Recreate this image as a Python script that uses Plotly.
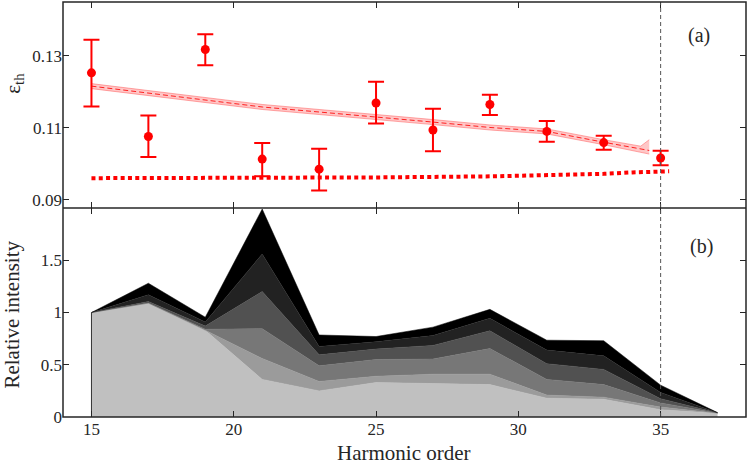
import plotly.graph_objects as go
from plotly.subplots import make_subplots

# ---- panel (a): measured threshold with error bars ----
orders = [15, 17, 19, 21, 23, 25, 27, 29, 31, 33, 35]
eps_meas = [0.1253, 0.1076, 0.1318, 0.1013, 0.0985, 0.1169, 0.1094, 0.1165, 0.1090, 0.1059, 0.1016]
eps_up = [0.0092, 0.0058, 0.0042, 0.0045, 0.0057, 0.0059, 0.0059, 0.0027, 0.0029, 0.0019, 0.0020]
eps_dn = [0.0094, 0.0057, 0.0044, 0.0048, 0.0059, 0.0057, 0.0059, 0.0029, 0.0029, 0.0020, 0.0020]

# model curve (dashed) with its uncertainty band
model_x = [15, 17, 19, 21, 23, 25, 27, 29, 31, 33, 34.3, 34.6]
model_y = [0.1216, 0.1196, 0.1177, 0.1158, 0.1144, 0.1131, 0.1116, 0.1101, 0.1090, 0.1060, 0.1041, 0.1037]
model_hi = [0.1223, 0.1203, 0.1184, 0.1165, 0.1151, 0.1138, 0.1123, 0.1108, 0.1097, 0.1067, 0.1049, 0.1067]
model_lo = [0.1209, 0.1189, 0.1170, 0.1151, 0.1137, 0.1124, 0.1109, 0.1094, 0.1083, 0.1053, 0.1033, 0.1027]

# thick dotted curve
dot_x = [15, 20, 25, 29, 31, 33, 34, 35, 35.3]
dot_y = [0.0960, 0.0960, 0.0962, 0.0965, 0.0968, 0.0972, 0.0976, 0.0980, 0.0979]

# ---- panel (b): stacked relative intensity ----
orders_b = [15, 17, 19, 21, 23, 25, 27, 29, 31, 33, 35, 37]
layer1 = [1.00, 1.09, 0.83, 0.36, 0.25, 0.33, 0.32, 0.31, 0.18, 0.17, 0.07, 0.035]
layer2 = [0.0, 0.0, 0.0, 0.20, 0.09, 0.06, 0.09, 0.10, 0.03, 0.02, 0.025, 0.002]
layer3 = [0.0, 0.0, 0.01, 0.285, 0.15, 0.16, 0.145, 0.245, 0.15, 0.12, 0.04, 0.002]
layer4 = [0.0, 0.015, 0.03, 0.355, 0.105, 0.10, 0.13, 0.17, 0.15, 0.145, 0.04, 0.001]
layer5 = [0.0, 0.065, 0.04, 0.36, 0.08, 0.07, 0.095, 0.12, 0.13, 0.13, 0.06, 0.001]
layer6 = [0.0, 0.11, 0.045, 0.43, 0.11, 0.05, 0.08, 0.085, 0.095, 0.145, 0.07, 0.001]
layer_colors = ["#c0c0c0", "#9b9b9b", "#777777", "#515151", "#222222", "#000000"]

FONT = "Liberation Serif"
AX = "#262626"
SPLIT = 209 / 415  # paper y of the border between the panels

fig = make_subplots(rows=2, cols=1, shared_xaxes=True, vertical_spacing=0,
                    row_heights=[206, 209])

# band
fig.add_trace(go.Scatter(x=model_x, y=model_hi, mode="lines",
                         line=dict(color="rgba(255,80,80,0.6)", width=0.8),
                         showlegend=False), row=1, col=1)
fig.add_trace(go.Scatter(x=model_x, y=model_lo, mode="lines", fill="tonexty",
                         fillcolor="rgba(255,0,0,0.22)",
                         line=dict(color="rgba(255,80,80,0.6)", width=0.8),
                         showlegend=False), row=1, col=1)
fig.add_trace(go.Scatter(x=model_x, y=model_y, mode="lines",
                         line=dict(color="#ff2020", width=1, dash="5px,3px"),
                         showlegend=False), row=1, col=1)
fig.add_trace(go.Scatter(x=dot_x, y=dot_y, mode="lines",
                         line=dict(color="#ff0000", width=4, dash="4px,3.3px"),
                         showlegend=False), row=1, col=1)
fig.add_trace(go.Scatter(x=orders, y=eps_meas, mode="markers",
                         marker=dict(color="#ff0000", size=9),
                         error_y=dict(type="data", symmetric=False, array=eps_up,
                                      arrayminus=eps_dn, color="#ff0000",
                                      thickness=2, width=8),
                         showlegend=False), row=1, col=1)

layers = [layer1, layer2, layer3, layer4, layer5, layer6]
for vals, col in zip(layers, layer_colors):
    fig.add_trace(go.Scatter(x=orders_b, y=vals, mode="lines", stackgroup="one",
                             fillcolor=col, line=dict(color=col, width=0.5),
                             showlegend=False), row=2, col=1)
fig.add_trace(go.Scatter(x=[orders_b[0], orders_b[0]], y=[0, layer1[0]], mode="lines",
                         line=dict(color="#333333", width=1), showlegend=False),
              row=2, col=1)

fig.add_vline(x=35, line=dict(color="#555555", width=1, dash="4px,3px"))

# frame drawn as shapes so the shared middle border is a single line
fig.add_shape(type="rect", xref="paper", yref="paper", x0=0, x1=1, y0=0, y1=1,
              line=dict(color=AX, width=1.5))
fig.add_shape(type="line", xref="paper", yref="paper", x0=0, x1=1, y0=SPLIT, y1=SPLIT,
              line=dict(color=AX, width=1.5))

axis_common = dict(showline=False, mirror="ticks", automargin=False,
                   ticks="inside", ticklen=6, tickcolor=AX, tickwidth=1.2,
                   showgrid=False, zeroline=False,
                   tickfont=dict(family=FONT, size=17, color=AX))
fig.update_xaxes(range=[14, 38], tickvals=[15, 20, 25, 30, 35], **axis_common)
fig.update_xaxes(showticklabels=False, row=1, col=1)
fig.update_yaxes(**axis_common)
fig.update_yaxes(range=[0.0877, 0.145], tickvals=[0.09, 0.11, 0.13],
                 ticktext=["0.09", "0.11", "0.13"], row=1, col=1)
fig.update_yaxes(range=[0, 2.0], tickvals=[0, 0.5, 1, 1.5], row=2, col=1)

title_font = dict(family=FONT, size=21, color=AX)
fig.add_annotation(x=0.4993, y=-0.087, xref="paper", yref="paper", text="Harmonic order",
                   xanchor="center", yanchor="middle", showarrow=False, font=title_font)
fig.add_annotation(x=-0.074, y=0.248, xref="paper", yref="paper", text="Relative intensity",
                   xanchor="center", yanchor="middle", textangle=-90, showarrow=False,
                   font=title_font)
fig.add_annotation(x=-0.072, y=0.805, xref="paper", yref="paper", text="ε<sub>th</sub>",
                   xanchor="center", yanchor="middle", textangle=-90, showarrow=False,
                   font=title_font)

fig.add_annotation(x=36.35, y=0.1357, xref="x", yref="y", text="(a)", showarrow=False,
                   font=dict(family=FONT, size=20, color=AX))
fig.add_annotation(x=36.45, y=1.635, xref="x2", yref="y2", text="(b)", showarrow=False,
                   font=dict(family=FONT, size=20, color=AX))

fig.update_layout(width=747, height=464, margin=dict(l=63, r=1, t=2, b=47),
                  plot_bgcolor="white", paper_bgcolor="white")

fig.write_html("out.html", config={"displayModeBar": False},
               post_script="document.body.style.margin = '0';")
